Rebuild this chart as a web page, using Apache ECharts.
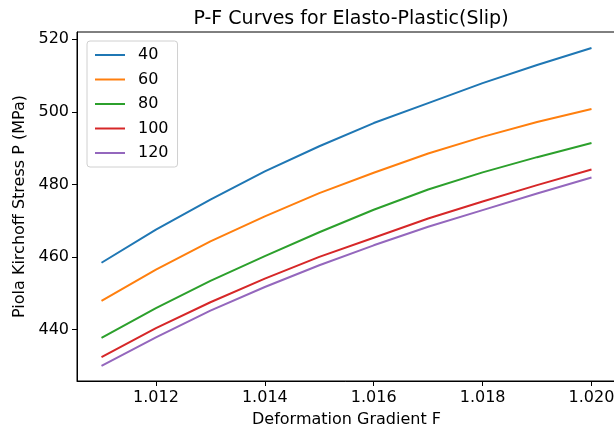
<!DOCTYPE html>
<html>
<head>
<meta charset="utf-8">
<script src="https://cdn.jsdelivr.net/npm/echarts@6/dist/echarts.min.js"></script>
<style>
html,body{margin:0;padding:0;background:#fff;}
#chart{width:614px;height:433px;}
</style>
</head>
<body>
<div id="chart"></div>
<script>
const xValues = [1.011, 1.012, 1.013, 1.014, 1.015, 1.016, 1.017, 1.018, 1.019, 1.020];
const seriesNames = ['40', '60', '80', '100', '120'];
const s40  = [458.4, 467.5, 475.8, 483.6, 490.5, 496.9, 502.4, 507.9, 512.9, 517.6];
const s60  = [447.9, 456.5, 464.3, 471.2, 477.6, 483.2, 488.5, 493.1, 497.2, 500.8];
const s80  = [437.7, 445.9, 453.4, 460.2, 466.8, 473.0, 478.6, 483.3, 487.5, 491.4];
const s100 = [432.4, 440.4, 447.5, 454.0, 460.0, 465.3, 470.6, 475.3, 479.8, 484.1];
const s120 = [430.0, 437.8, 445.2, 451.7, 457.7, 463.2, 468.3, 472.9, 477.5, 481.9];
const xTicks = [1.012, 1.014, 1.016, 1.018, 1.020];
const yTicks = [440, 460, 480, 500, 520];
const colors = ['#1f77b4', '#ff7f0e', '#2ca02c', '#d62728', '#9467bd'];

const allSeries = [s40, s60, s80, s100, s120];
const font = 'DejaVu Sans';

const chart = echarts.init(document.getElementById('chart'), null, {renderer: 'canvas'});
chart.setOption({
  animation: false,
  backgroundColor: '#fff',
  color: colors,
  title: {
    text: 'P-F Curves for Elasto-Plastic(Slip)',
    left: 346,
    textAlign: 'center',
    top: 5,
    textStyle: {fontFamily: font, fontSize: 19, fontWeight: 'normal', color: '#000'}
  },
  grid: {
    left: 77, width: 539, top: 32, height: 349,
    outerBoundsMode: 'none',
    containLabel: false,
    show: true, borderColor: '#000', borderWidth: 1, backgroundColor: 'transparent'
  },
  legend: {
    orient: 'vertical',
    left: 87, top: 41,
    padding: [5, 9, 5, 8],
    itemGap: 6.5,
    itemWidth: 30, itemHeight: 2,
    icon: 'rect',
    borderColor: '#d0d0d0', borderWidth: 1, borderRadius: 3,
    backgroundColor: '#fff',
    textStyle: {fontFamily: font, fontSize: 16, color: '#000', lineHeight: 18, padding: [0, 0, 0, 8]},
    data: seriesNames
  },
  xAxis: {
    type: 'value',
    min: 1.01055, max: 1.02045,
    name: 'Deformation Gradient F',
    nameLocation: 'middle',
    nameGap: 31,
    nameTextStyle: {fontFamily: font, fontSize: 16, color: '#000'},
    axisLine: {show: true, lineStyle: {color: '#000', width: 1}},
    axisTick: {show: true, length: 5, inside: false, customValues: xTicks, lineStyle: {color: '#000'}},
    axisLabel: {
      customValues: xTicks, margin: 9,
      fontFamily: font, fontSize: 16, color: '#000',
      formatter: v => v.toFixed(3)
    },
    splitLine: {show: false}
  },
  yAxis: {
    type: 'value',
    min: 425.8, max: 522.0,
    name: 'Piola Kirchoff Stress P (MPa)',
    nameLocation: 'middle',
    nameGap: 47,
    nameTextStyle: {fontFamily: font, fontSize: 16, color: '#000'},
    axisLine: {show: true, lineStyle: {color: '#000', width: 1}},
    axisTick: {show: true, length: 5, inside: false, customValues: yTicks, lineStyle: {color: '#000'}},
    axisLabel: {
      customValues: yTicks, margin: 8,
      fontFamily: font, fontSize: 16, color: '#000'
    },
    splitLine: {show: false}
  },
  series: seriesNames.map((n, i) => ({
    name: n,
    type: 'line',
    data: xValues.map((x, j) => [x, allSeries[i][j]]),
    showSymbol: false,
    symbol: 'none',
    lineStyle: {width: 2, color: colors[i]},
    itemStyle: {color: colors[i]}
  }))
});
</script>
</body>
</html>
